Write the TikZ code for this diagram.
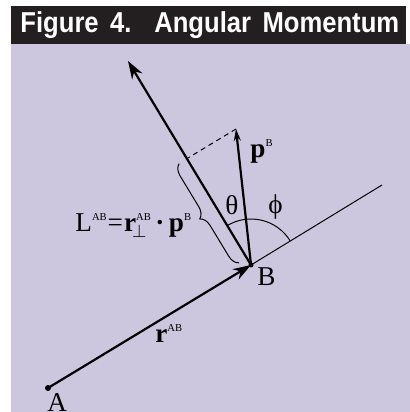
\documentclass[tikz,border=0pt]{standalone}
\usepackage{fontspec}
\setmainfont{Liberation Serif}
\newfontfamily\titlefont[FakeStretch=0.89, WordSpace=1.6]{Liberation Sans}
\usetikzlibrary{calc,arrows.meta,decorations.pathreplacing}
\definecolor{panel}{HTML}{CCC7DF}
\definecolor{titlebar}{HTML}{231F20}
\newcommand{\upidx}[1]{\raisebox{5.5pt}{\fontsize{5.3}{6}\selectfont #1}}
\tikzset{
  vecline/.style={line width=1.1pt, -{Stealth[length=9pt, width=6pt]}},
  pvecline/.style={line width=1.1pt, -{Stealth[length=6pt, width=3.5pt]}},
  thinline/.style={line width=0.5pt},
  guide/.style={thinline, dash pattern=on 2.5pt off 2pt},
  bracemark/.style={thinline, decorate, decoration={brace, amplitude=5.5pt}},
  lbl/.style={font=\fontsize{13.6}{15}\selectfont, inner sep=0pt, anchor=base west},
  titletext/.style={font={\fontsize{14.4}{16}\titlefont\bfseries}, text=white,
                    inner sep=0pt, anchor=base west},
}

\begin{document}
\begin{tikzpicture}[x=0.5pt, y=0.5pt]
    \useasboundingbox (0, 0) rectangle (410, 412);
    \fill[panel] (11, 0) rectangle (410, 368);
    \fill[titlebar] (11, 368) rectangle (406, 405.5);
    \node[titletext] (title) at (20, 379) {Figure 4.\ \ Angular Momentum};
    \coordinate (A) at (48, 24);
    \coordinate (B) at (251, 147);
    \coordinate (rEnd) at (382, 227);
    \coordinate (pTip) at (236, 283);
    \coordinate (LTip) at (128, 351);
    \coordinate (foot) at ($(B)!(pTip)!(LTip)$);
    \coordinate (braceLo) at ($(B)+(121.2:8)+(211.2:9)$);
    \coordinate (braceHi) at ($(B)+(121.2:124)+(211.2:9)$);
    \draw[thinline] (B) -- (rEnd);
    \draw[thinline] ($(B)+(31.2:46)$) arc[start angle=31.2, end angle=121.2, radius=46];
    \draw[guide] (pTip) -- (foot);
    \draw[bracemark] (braceLo) -- (braceHi);
    \draw[vecline] (A) -- (B);
    \draw[vecline] (B) -- (LTip);
    \draw[pvecline] (B) -- (pTip);
    \fill (A) circle[radius=3];
    \fill (B) circle[radius=2.5];
    \node[lbl] (labA) at (47, 1) {A};
    \node[lbl] (labB) at (257, 126) {B};
    \node[lbl, anchor=base] (theta) at (232, 197) {θ};
    \node[lbl, anchor=base] (phi) at (275.5, 198) {ϕ};
    \node[lbl] (pB) at (250, 254.5) {\textbf{p}\upidx{B}};
    \node[lbl] (rAB) at (155, 69) {\textbf{r}\upidx{AB}};
    \node[lbl] (LAB) at (75, 180)
      {L\upidx{AB}\kern0.5pt=\kern0.5pt\textbf{r}\rlap{\kern-2pt\raisebox{-3pt}{\fontsize{9}{10}\selectfont$\perp$}}\upidx{AB}\,\textbf{·}\,\textbf{p}\upidx{B}};
\end{tikzpicture}
\end{document}
